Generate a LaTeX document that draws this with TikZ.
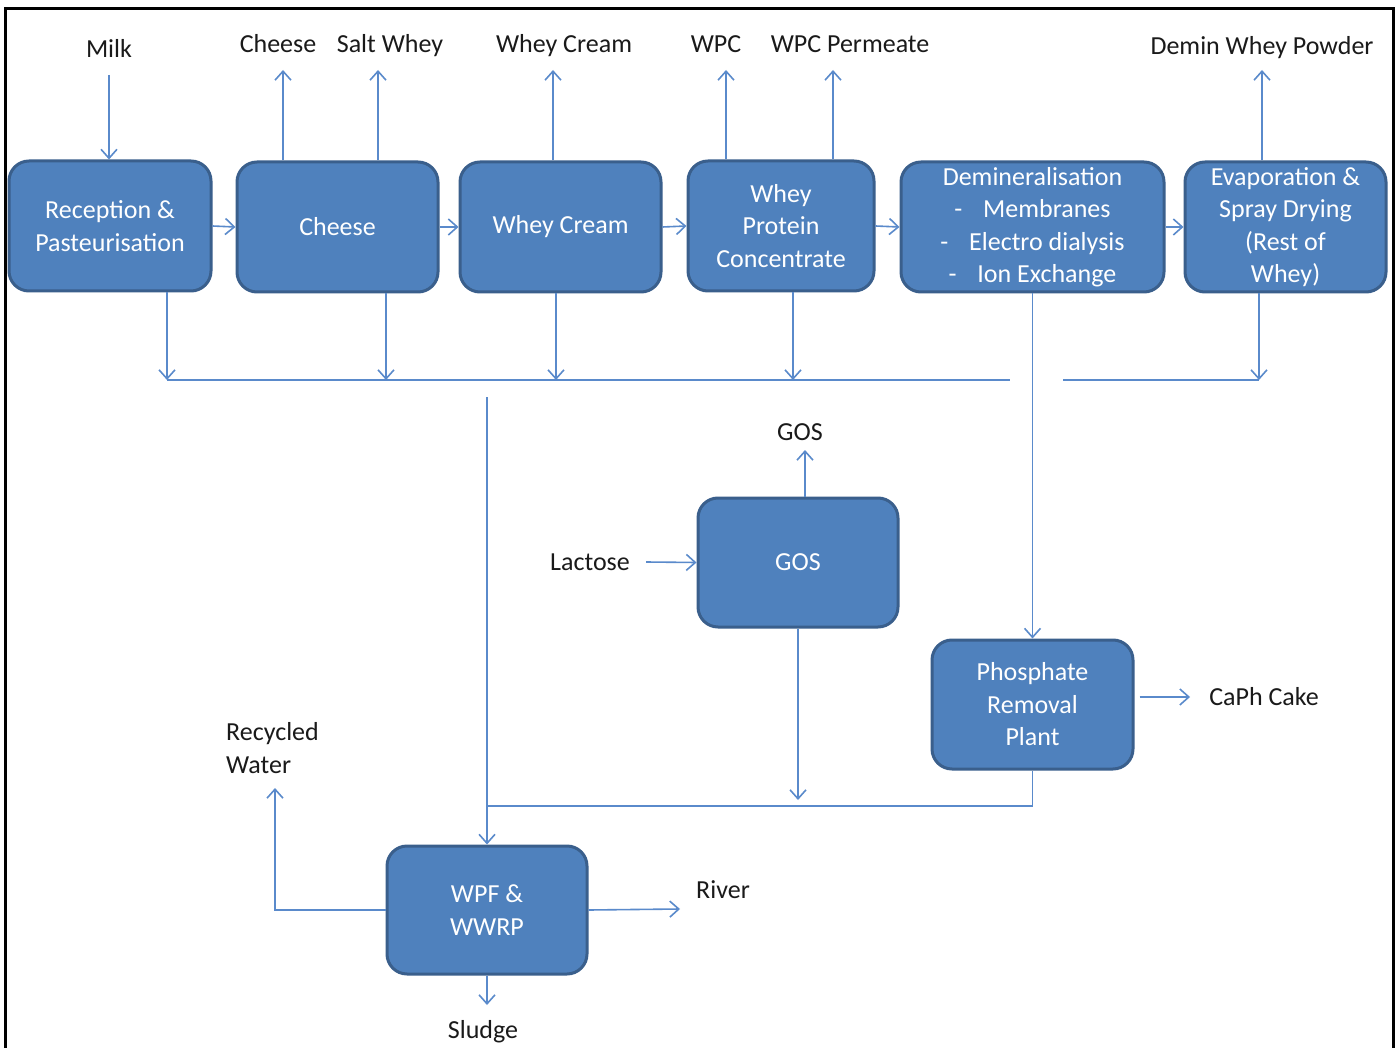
\documentclass[tikz,border=0pt]{standalone}
\usepackage{fontspec}
\setmainfont{Carlito}
\usetikzlibrary{arrows.meta,calc}
\definecolor{boxfill}{HTML}{4F81BD}
\definecolor{boxline}{HTML}{3A5F8C}
\definecolor{arrcol}{HTML}{5A8ACB}
\definecolor{txt}{HTML}{1A1A1A}
\begin{document}
\begin{tikzpicture}[x=1pt,y=-1pt,
  box/.style={draw=boxline,line width=3pt,fill=boxfill,rounded corners=20pt,text=white,align=center,inner sep=0pt,font=\fontsize{26}{32.5}\selectfont},
  lblm/.style={text=txt,align=left,inner sep=0pt,font=\fontsize{26}{32.5}\selectfont},
  lbl/.style={lblm,text height=17pt,text depth=0pt},
  arr/.style={draw=arrcol,line width=1.6pt,-{Straight Barb[length=9pt,width=16pt,line width=1.6pt]}},
  ln/.style={draw=arrcol,line width=1.6pt}]
\useasboundingbox (0,0) rectangle (1397,1048);
\fill[white] (0,0) rectangle (1397,1048);
\draw[line width=3pt] (5,1052) -- (5,9) -- (1393,9) -- (1393,1052);

% boxes
\node[box,minimum width=202pt,minimum height=130pt] (rec) at (110,226) {Reception \&\\Pasteurisation};
\node[box,minimum width=201pt,minimum height=130pt] (cheese) at (337.5,227) {Cheese};
\node[box,minimum width=201pt,minimum height=130pt] (whey) at (560.5,227) {Whey Cream};
\node[box,minimum width=186pt,minimum height=130pt] (wpc) at (781,226) {Whey\\Protein\\Concentrate};
\node[box,minimum width=263pt,minimum height=130pt] (demin) at (1032.5,227) {Demineralisation\\-\hspace{0.8em}Membranes\\-\hspace{0.8em}Electro dialysis\\-\hspace{0.8em}Ion Exchange};
\node[box,minimum width=201pt,minimum height=130pt] (evap) at (1285.5,227) {Evaporation \&\\Spray Drying\\(Rest of\\Whey)};
\node[box,minimum width=200pt,minimum height=129pt] (gos) at (798,562.5) {GOS};
\node[box,minimum width=201pt,minimum height=129pt] (phos) at (1032.5,704.5) {Phosphate\\Removal\\Plant};
\node[box,minimum width=200pt,minimum height=128pt] (wpf) at (487,910) {WPF \&\\WWRP};

% labels
\node[lbl] (milk) at (109,49) {Milk};
\node[lbl] (cheeseL) at (278,44) {Cheese};
\node[lbl] (salt) at (390,44) {Salt Whey};
\node[lbl] (wheyL) at (564,44) {Whey Cream};
\node[lbl] (wpcL) at (716,44) {WPC};
\node[lbl] (perm) at (850,44) {WPC Permeate};
\node[lbl] (demL) at (1262,46) {Demin Whey Powder};
\node[lbl] (gosL) at (800,432) {GOS};
\node[lbl] (lact) at (590,562) {Lactose};
\node[lbl] (caph) at (1264,697) {CaPh Cake};
\node[lblm,anchor=west] (recyc) at (226,748) {Recycled\\Water};
\node[lbl] (river) at (723,890) {River};
\node[lbl] (sludge) at (483,1030) {Sludge};

% coordinates
\coordinate (milkA) at (109,75);
\coordinate (chA) at (283,70);
\coordinate (saA) at (378,70);
\coordinate (wcA) at (553,70);
\coordinate (wpA) at (726,70);
\coordinate (peA) at (833,70);
\coordinate (dwA) at (1262,70);
\coordinate (d1) at (167,380);
\coordinate (d2) at (386,380);
\coordinate (d3) at (556,380);
\coordinate (d4) at (793,380);
\coordinate (d5) at (1259,380);
\coordinate (busA) at (1010,380);
\coordinate (busB) at (1063,380);
\coordinate (v0) at (487,397);
\coordinate (gu) at (805,450);
\coordinate (gd) at (798,800);
\coordinate (jn) at (487,806);
\coordinate (rw) at (275,788);
\coordinate (rv) at (680,909);
\coordinate (sl) at (487,1005);

% connectors
\draw[arr] (milkA) -- (rec.north -| milkA);
\draw[arr] (cheese.north -| chA) -- (chA);
\draw[arr] (cheese.north -| saA) -- (saA);
\draw[arr] (whey.north -| wcA) -- (wcA);
\draw[arr] (wpc.north -| wpA) -- (wpA);
\draw[arr] (wpc.north -| peA) -- (peA);
\draw[arr] (evap.north -| dwA) -- (dwA);

\draw[arr] (rec.east) -- (cheese.west);
\draw[arr] (cheese.east) -- (whey.west);
\draw[arr] (whey.east) -- (wpc.west);
\draw[arr] (wpc.east) -- (demin.west);
\draw[arr] (demin.east) -- (evap.west);

\draw[arr] (rec.south -| d1) -- (d1);
\draw[arr] (cheese.south -| d2) -- (d2);
\draw[arr] (whey.south -| d3) -- (d3);
\draw[arr] (wpc.south -| d4) -- (d4);
\draw[arr] (evap.south -| d5) -- (d5);
\draw[ln] (d1) -- (busA);
\draw[ln] (busB) -- (d5);

\draw[arr] (demin.south) -- (phos.north);
\draw[arr] (v0) -- (v0 |- wpf.north);

\draw[arr] ([xshift=16pt]lact.east) -- (gos.west);
\draw[arr] (gos.north -| gu) -- (gu);
\draw[arr] (gos.south -| gd) -- (gd);
\draw[ln] (phos.south) |- (jn);

\draw[arr] ([xshift=5pt]phos.east |- caph.west) -- ([xshift=-19pt]caph.west);
\draw[arr] (wpf.west) -| (rw);
\draw[arr] (wpf.east) -- (rv);
\draw[arr] (wpf.south) -- (sl);
\end{tikzpicture}
\end{document}
